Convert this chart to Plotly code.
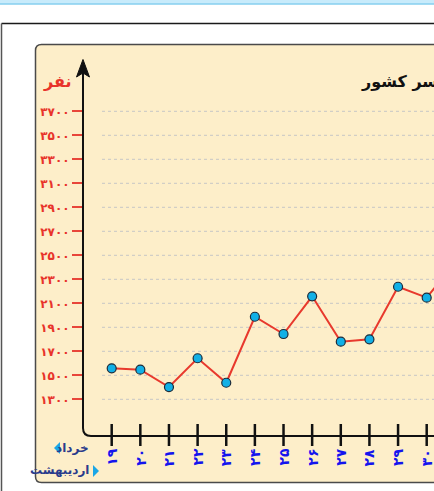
import plotly.graph_objects as go

W, H = 434, 491

# ---- data ----
days = [19, 20, 21, 22, 23, 24, 25, 26, 27, 28, 29, 30, 31]
day_labels = ["۱۹", "۲۰", "۲۱", "۲۲", "۲۳", "۲۴", "۲۵", "۲۶", "۲۷", "۲۸", "۲۹", "۳۰", "۳۱"]
cases = [1558, 1547, 1402, 1642, 1438, 1988, 1844, 2158, 1780, 1800, 2238, 2147, 2440]
y_ticks = [1300, 1500, 1700, 1900, 2100, 2300, 2500, 2700, 2900, 3100, 3300, 3500, 3700]
y_labels = ["۱۳۰۰", "۱۵۰۰", "۱۷۰۰", "۱۹۰۰", "۲۱۰۰", "۲۳۰۰", "۲۵۰۰", "۲۷۰۰",
            "۲۹۰۰", "۳۱۰۰", "۳۳۰۰", "۳۵۰۰", "۳۷۰۰"]
title_text = "آمار مبتلایان جدید کرونا در سراسر کشور"
y_title = "نفر"
month_top = "خرداد"
month_bottom = "اردیبهشت"

FONT = "DejaVu Sans"


def X(px):
    return px / W


def Y(py):
    return 1 - py / H


def path(points, close=False):
    s = ""
    for i, p in enumerate(points):
        if p[0] == "Q":
            s += f" Q {X(p[1]):.5f},{Y(p[2]):.5f} {X(p[3]):.5f},{Y(p[4]):.5f}"
        else:
            s += f" {'M' if i == 0 else 'L'} {X(p[0]):.5f},{Y(p[1]):.5f}"
    if close:
        s += " Z"
    return s.strip()


x_lo = 19 - (111.7 - 85) / 28.64
x_hi = 30 + (434 - 426.7) / 28.64
y_lo = 1300 - (436 - 399.3) / 0.12
y_hi = 1300 + (399.3 - 60) / 0.12

shapes = []
# top light-blue bar
shapes.append(dict(type="rect", xref="paper", yref="paper", x0=X(-5), x1=X(440),
                   y0=Y(-5), y1=Y(4), fillcolor="#c8ebfb", line=dict(color="#86cff0", width=1.5),
                   layer="below"))
# outer frame lines
shapes.append(dict(type="line", xref="paper", yref="paper", x0=X(1.5), x1=X(440),
                   y0=Y(23.5), y1=Y(23.5), line=dict(color="#1a1a1a", width=1.5), layer="below"))
shapes.append(dict(type="line", xref="paper", yref="paper", x0=X(1.5), x1=X(1.5),
                   y0=Y(23.5), y1=Y(495), line=dict(color="#555555", width=1.5), layer="below"))
# beige panel (rounded, running off the right edge)
shapes.append(dict(type="path", xref="paper", yref="paper",
                   path=path([(445, 44.5), (41.5, 44.5), ("Q", 35.5, 44.5, 35.5, 50.5),
                              (35.5, 476.5), ("Q", 35.5, 482.5, 41.5, 482.5), (445, 482.5)], close=True),
                   fillcolor="#fdeec9", line=dict(color="#4a4a4a", width=1.5), layer="below"))
# dotted grid lines
for v in y_ticks:
    shapes.append(dict(type="line", xref="paper", yref="y", x0=X(102), x1=X(440), y0=v, y1=v,
                       line=dict(color="#c6c6c6", width=1, dash="dot"), layer="below"))
# L-shaped axis with rounded corner
shapes.append(dict(type="path", xref="paper", yref="paper",
                   path=path([(83, 66), (83, 428), ("Q", 83, 436, 91, 436), (445, 436)]),
                   line=dict(color="#111111", width=2)))
# arrow head
shapes.append(dict(type="path", xref="paper", yref="paper",
                   path=path([(83, 59.5), (89.5, 77), (83, 73), (76.5, 77)], close=True),
                   fillcolor="#111111", line=dict(color="#111111", width=1)))
# x tick marks crossing the axis
for d in days:
    shapes.append(dict(type="line", xref="x", yref="paper", x0=d, x1=d, y0=Y(424), y1=Y(446),
                       line=dict(color="#111111", width=2.5)))
# month marker triangles
shapes.append(dict(type="path", xref="paper", yref="paper",
                   path=path([(54, 448), (60, 442), (60, 454)], close=True),
                   fillcolor="#1aa6e6", line=dict(width=0)))
shapes.append(dict(type="path", xref="paper", yref="paper",
                   path=path([(99, 471), (93, 465), (93, 477)], close=True),
                   fillcolor="#1aa6e6", line=dict(width=0)))

annotations = []
annotations.append(dict(text=title_text, xref="paper", yref="paper", x=X(359), y=Y(81),
                        xanchor="left", yanchor="middle", showarrow=False,
                        font=dict(family=FONT, size=16, color="#111111", weight="bold")))
annotations.append(dict(text=y_title, xref="paper", yref="paper", x=X(73), y=Y(81),
                        xanchor="right", yanchor="middle", showarrow=False,
                        font=dict(family=FONT, size=16, color="#e8332a", weight="bold")))
annotations.append(dict(text=month_top, xref="paper", yref="paper", x=X(91), y=Y(448),
                        xanchor="right", yanchor="middle", showarrow=False,
                        font=dict(family=FONT, size=12, color="#2b3c8c", weight="bold")))
annotations.append(dict(text=month_bottom, xref="paper", yref="paper", x=X(91), y=Y(470),
                        xanchor="right", yanchor="middle", showarrow=False,
                        font=dict(family=FONT, size=12, color="#2b3c8c", weight="bold")))
for d, lab in zip(days, day_labels):
    if d > x_hi:
        continue
    annotations.append(dict(text=lab, xref="x", yref="paper", x=d, y=Y(468),
                            xanchor="center", yanchor="bottom", textangle=-90, showarrow=False,
                            font=dict(family=FONT, size=14, color="#1414ee", weight="bold")))

fig = go.Figure()
fig.add_trace(go.Scatter(
    x=days, y=cases, mode="lines+markers",
    line=dict(color="#e8392d", width=2),
    marker=dict(size=9, color="#12b0e6", line=dict(color="#1c2b3a", width=1.2)),
    hoverinfo="x+y", showlegend=False,
))

fig.update_layout(
    width=W, height=H,
    margin=dict(l=0, r=0, t=0, b=0),
    paper_bgcolor="#ffffff",
    plot_bgcolor="rgba(0,0,0,0)",
    showlegend=False,
    shapes=shapes,
    annotations=annotations,
    xaxis=dict(domain=[X(85), 1], range=[x_lo, x_hi], showticklabels=False, ticks="",
               showgrid=False, zeroline=False, showline=False, fixedrange=True),
    yaxis=dict(domain=[Y(436), Y(60)], range=[y_lo, y_hi], tickvals=y_ticks, ticktext=y_labels,
               ticks="outside", ticklen=12, tickwidth=1.5, tickcolor="#e8463a",
               tickfont=dict(family=FONT, size=12, color="#e8332a", weight="bold"),
               showgrid=False, zeroline=False, showline=False, automargin=False, fixedrange=True),
)

fig.write_html("out.html", config={"displayModeBar": False},
               post_script="document.body.style.margin='0px';document.body.style.overflow='hidden';")
